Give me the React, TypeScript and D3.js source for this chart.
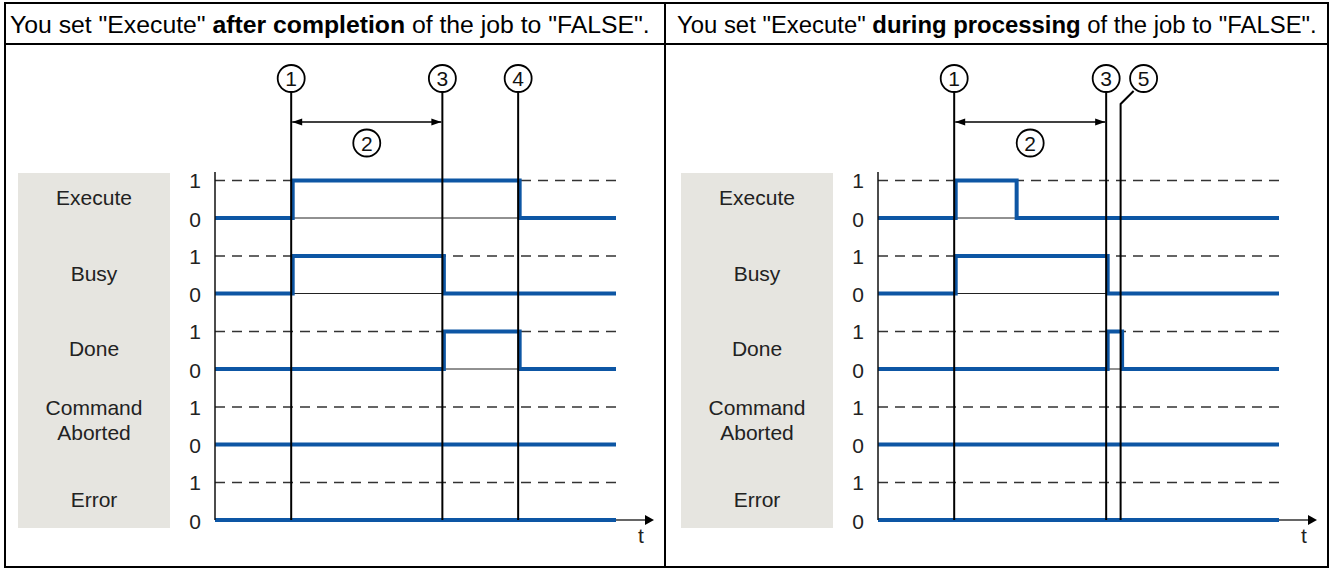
import React, { useEffect, useRef } from "react";
import * as d3 from "d3";

// signal rows, top to bottom
const signals = ["Execute", "Busy", "Done", "Command\nAborted", "Error"];
const levels = [1, 0];

// event times (0 = axis, 10 = end of trace)
const panels = [
  {
    title: ["You set \"Execute\" ", "after completion", " of the job to \"FALSE\"."],
    events: [
      { id: "1", t: 1.9 },
      { id: "3", t: 5.67 },
      { id: "4", t: 7.56 },
    ],
    span: { id: "2", from: 1.9, to: 5.67 },
    traces: [
      [[0, 0], [1.9, 1], [7.56, 0]],
      [[0, 0], [1.9, 1], [5.67, 0]],
      [[0, 0], [5.67, 1], [7.56, 0]],
      [[0, 0]],
      [[0, 0]],
    ],
  },
  {
    title: ["You set \"Execute\" ", "during processing", " of the job to \"FALSE\"."],
    events: [
      { id: "1", t: 1.9 },
      { id: "3", t: 5.69 },
      { id: "5", t: 6.05, leader: true },
    ],
    span: { id: "2", from: 1.9, to: 5.69 },
    traces: [
      [[0, 0], [1.9, 1], [3.42, 0]],
      [[0, 0], [1.9, 1], [5.69, 0]],
      [[0, 0], [5.69, 1], [6.05, 0]],
      [[0, 0]],
      [[0, 0]],
    ],
  },
];

const BLUE = "#0d56a4";
const FONT = "'Liberation Sans', Arial, sans-serif";

const App = () => {
  const ref = useRef(null);

  useEffect(() => {
    const svg = d3.select(ref.current);
    svg.selectAll("*").remove();

    const rowY = d3.scalePoint().domain(signals).range([180.5, 482.5]);
    const lvl = d3.scaleLinear().domain([1, 0]).range([0, 37.5]);

    panels.forEach((p, pi) => {
      const off = pi * 663;
      const axisX = 215 + off;
      const x = d3.scaleLinear().domain([0, 10]).range([axisX, axisX + 401]);
      const g = svg.append("g");
      const yBottom = rowY("Error") + lvl(0);

      // header text, squeezed horizontally to the cell width like the original
      const tx = 10 + pi * 667;
      const title = g
        .append("text")
        .attr("x", tx)
        .attr("y", 33)
        .attr("font-family", FONT)
        .attr("font-size", 24.5)
        .attr("fill", "#000");
      p.title.forEach((s, i) =>
        title
          .append("tspan")
          .attr("font-weight", i === 1 ? "bold" : "normal")
          .text(s)
      );
      const w = title.node().getBBox().width;
      const k = 640 / w;
      title.attr("transform", `translate(${tx},0) scale(${k},1) translate(${-tx},0)`);

      // grey label box
      g.append("rect")
        .attr("x", 18 + off)
        .attr("y", 173)
        .attr("width", 152)
        .attr("height", 355)
        .attr("fill", "#e6e5e0");

      signals.forEach((s) => {
        const y0 = rowY(s);
        const mid = y0 + lvl(0) / 2;
        const lines = s.split("\n");
        lines.forEach((ln, i) => {
          g.append("text")
            .attr("x", 94 + off)
            .attr("y", lines.length === 1 ? mid + 6 : mid - 11 + i * 25)
            .attr("text-anchor", "middle")
            .attr("font-family", FONT)
            .attr("font-size", 21)
            .attr("fill", "#222")
            .text(ln);
        });

        levels.forEach((v) => {
          g.append("text")
            .attr("x", axisX - 20)
            .attr("y", y0 + lvl(v) + (v ? 7.5 : 8.5))
            .attr("text-anchor", "middle")
            .attr("font-family", FONT)
            .attr("font-size", 21)
            .attr("fill", "#222")
            .text(v);
        });

        // dashed "1" level and thin "0" level
        g.append("line")
          .attr("x1", x(0))
          .attr("x2", x(10))
          .attr("y1", y0 + lvl(1))
          .attr("y2", y0 + lvl(1))
          .attr("stroke", "#333")
          .attr("stroke-width", 1.4)
          .attr("stroke-dasharray", "10,7");
        g.append("line")
          .attr("x1", x(0))
          .attr("x2", x(10))
          .attr("y1", y0 + lvl(0))
          .attr("y2", y0 + lvl(0))
          .attr("stroke", "#222")
          .attr("stroke-width", 1);
      });

      // blue traces
      const line = d3
        .line()
        .x((d) => d[0])
        .y((d) => d[1])
        .curve(d3.curveStepAfter);
      p.traces.forEach((tr, i) => {
        const y0 = rowY(signals[i]);
        const pts = tr.map((d) => [x(d[0]) + (d[0] > 0 ? 1.5 : 0), y0 + lvl(d[1])]);
        pts.push([x(10), y0 + lvl(tr[tr.length - 1][1])]);
        g.append("path")
          .attr("d", line(pts))
          .attr("fill", "none")
          .attr("stroke", BLUE)
          .attr("stroke-width", 4);
      });

      // time axis
      g.append("line")
        .attr("x1", axisX)
        .attr("x2", axisX)
        .attr("y1", 172)
        .attr("y2", yBottom)
        .attr("stroke", "#111")
        .attr("stroke-width", 1.5);
      g.append("line")
        .attr("x1", x(10))
        .attr("x2", x(10) + 30)
        .attr("y1", yBottom)
        .attr("y2", yBottom)
        .attr("stroke", "#333")
        .attr("stroke-width", 1.5);
      g.append("path")
        .attr("d", `M${x(10) + 38},${yBottom} l-9,-5 l0,10 z`)
        .attr("fill", "#000");
      g.append("text")
        .attr("x", x(10) + 25)
        .attr("y", yBottom + 23)
        .attr("text-anchor", "middle")
        .attr("font-family", FONT)
        .attr("font-size", 21)
        .attr("fill", "#222")
        .text("t");

      // event lines with numbered circles
      const cy = 78.5;
      const r = 13.5;
      p.events.forEach((e) => {
        const ex = x(e.t);
        let cx = ex;
        if (e.leader) {
          cx = ex + 23;
          g.append("path")
            .attr("d", `M${ex},${yBottom} V104 L${cx - 10},${cy + 12.5}`)
            .attr("fill", "none")
            .attr("stroke", "#000")
            .attr("stroke-width", 2);
        } else {
          g.append("line")
            .attr("x1", ex)
            .attr("x2", ex)
            .attr("y1", cy + r)
            .attr("y2", yBottom)
            .attr("stroke", "#000")
            .attr("stroke-width", 2);
        }
        g.append("circle")
          .attr("cx", cx)
          .attr("cy", cy)
          .attr("r", r)
          .attr("fill", "#fff")
          .attr("stroke", "#000")
          .attr("stroke-width", 1.8);
        g.append("text")
          .attr("x", cx)
          .attr("y", cy + 7.5)
          .attr("text-anchor", "middle")
          .attr("font-family", FONT)
          .attr("font-size", 21)
          .attr("fill", "#111")
          .text(e.id);
      });

      // duration arrow (2)
      const ay = 122;
      const a1 = x(p.span.from) + 1;
      const a2 = x(p.span.to) - 1;
      g.append("line")
        .attr("x1", a1)
        .attr("x2", a2)
        .attr("y1", ay)
        .attr("y2", ay)
        .attr("stroke", "#000")
        .attr("stroke-width", 1.3);
      g.append("path")
        .attr("d", `M${a1},${ay} l10,-3.5 l0,7 z M${a2},${ay} l-10,-3.5 l0,7 z`)
        .attr("fill", "#000");
      const c2 = (x(p.span.from) + x(p.span.to)) / 2;
      g.append("circle")
        .attr("cx", c2)
        .attr("cy", 143)
        .attr("r", r)
        .attr("fill", "#fff")
        .attr("stroke", "#000")
        .attr("stroke-width", 1.8);
      g.append("text")
        .attr("x", c2)
        .attr("y", 143 + 7.5)
        .attr("text-anchor", "middle")
        .attr("font-family", FONT)
        .attr("font-size", 21)
        .attr("fill", "#111")
        .text(p.span.id);
    });

    // table frame
    svg
      .append("rect")
      .attr("x", 5)
      .attr("y", 3)
      .attr("width", 1323)
      .attr("height", 564)
      .attr("fill", "none")
      .attr("stroke", "#000")
      .attr("stroke-width", 2);
    svg
      .append("line")
      .attr("x1", 5)
      .attr("x2", 1328)
      .attr("y1", 44)
      .attr("y2", 44)
      .attr("stroke", "#000")
      .attr("stroke-width", 2);
    svg
      .append("line")
      .attr("x1", 665)
      .attr("x2", 665)
      .attr("y1", 3)
      .attr("y2", 567)
      .attr("stroke", "#000")
      .attr("stroke-width", 2);
  }, []);

  return (
    <svg
      ref={ref}
      width={1330}
      height={568}
      style={{ position: "absolute", left: 0, top: 0, background: "#fff" }}
    ></svg>
  );
};

export default App;
